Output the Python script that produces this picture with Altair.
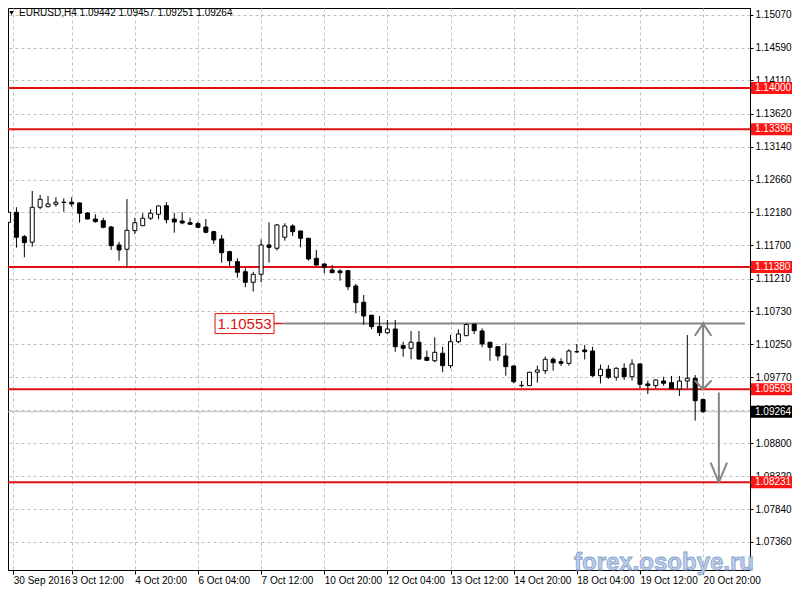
import json
import altair as alt
import pandas as pd

# ---------------- data ----------------
bars = list(range(89))  # H4 bar index (weekends skipped, MT4 style)

opens = [1.12035, 1.12182, 1.11825, 1.11743, 1.12255, 1.12263, 1.12299, 1.12328, 1.12328, 1.12318,
         1.12171, 1.12083, 1.12059, 1.11966, 1.11703, 1.11640, 1.11912, 1.11985, 1.12094, 1.12152,
         1.12278, 1.12083, 1.12054, 1.12029, 1.12015, 1.11966, 1.11898, 1.11791, 1.11605, 1.11459,
         1.11312, 1.11157, 1.11274, 1.11703, 1.11655, 1.11816, 1.11981, 1.11908, 1.11801, 1.11508,
         1.11425, 1.11337, 1.11323, 1.11327, 1.11103, 1.10865, 1.10675, 1.10511, 1.10420, 1.10474,
         1.10230, 1.10192, 1.10280, 1.10060, 1.10010, 1.10119, 1.09937, 1.10288, 1.10376, 1.10545,
         1.10445, 1.10280, 1.10215, 1.10079, 1.09933, 1.09645, 1.09645, 1.09841, 1.09864, 1.10031,
         1.09996, 1.09972, 1.10142, 1.10167, 1.10152, 1.09791, 1.09885, 1.09768, 1.09899, 1.09776,
         1.09962, 1.09670, 1.09645, 1.09713, 1.09689, 1.09596, 1.09713, 1.09753, 1.09442]
highs = [1.12200, 1.12255, 1.11849, 1.12493, 1.12435, 1.12420, 1.12401, 1.12386, 1.12401, 1.12328,
         1.12182, 1.12152, 1.12102, 1.11981, 1.11751, 1.12376, 1.12102, 1.12167, 1.12225, 1.12278,
         1.12328, 1.12167, 1.12182, 1.12102, 1.12044, 1.12083, 1.11912, 1.11849, 1.11620, 1.11508,
         1.11362, 1.11312, 1.11786, 1.12035, 1.12010, 1.12021, 1.12006, 1.11912, 1.11806, 1.11630,
         1.11430, 1.11410, 1.11348, 1.11337, 1.11133, 1.10972, 1.10680, 1.10664, 1.10606, 1.10606,
         1.10288, 1.10445, 1.10445, 1.10157, 1.10353, 1.10215, 1.10386, 1.10470, 1.10553, 1.10550,
         1.10484, 1.10285, 1.10220, 1.10265, 1.09938, 1.09713, 1.09845, 1.09938, 1.10069, 1.10060,
         1.10045, 1.10177, 1.10255, 1.10240, 1.10215, 1.09955, 1.09947, 1.09914, 1.09972, 1.10031,
         1.09972, 1.09718, 1.09738, 1.09776, 1.09787, 1.09787, 1.10386, 1.09801, 1.09457]
lows = [1.12025, 1.11664, 1.11523, 1.11678, 1.12225, 1.12255, 1.12263, 1.12190, 1.12263, 1.12029,
        1.12079, 1.12029, 1.11947, 1.11630, 1.11473, 1.11380, 1.11864, 1.11981, 1.12069, 1.12079,
        1.12021, 1.11883, 1.12006, 1.11996, 1.11947, 1.11874, 1.11718, 1.11444, 1.11396, 1.11225,
        1.11084, 1.11020, 1.11157, 1.11444, 1.11620, 1.11766, 1.11835, 1.11669, 1.11473, 1.11396,
        1.11289, 1.11289, 1.11181, 1.11045, 1.10704, 1.10533, 1.10470, 1.10372, 1.10401, 1.10142,
        1.10069, 1.10031, 1.10021, 1.10010, 1.09987, 1.09841, 1.09899, 1.10265, 1.10370, 1.10401,
        1.10206, 1.10010, 1.10010, 1.09791, 1.09680, 1.09621, 1.09640, 1.09689, 1.09816, 1.09864,
        1.09933, 1.09937, 1.10127, 1.10028, 1.09772, 1.09677, 1.09743, 1.09718, 1.09728, 1.09718,
        1.09607, 1.09523, 1.09607, 1.09645, 1.09596, 1.09494, 1.09607, 1.09133, 1.09251]
closes = [1.12182, 1.11816, 1.11737, 1.12255, 1.12372, 1.12303, 1.12328, 1.12326, 1.12303, 1.12167,
          1.12083, 1.12044, 1.11962, 1.11693, 1.11630, 1.11918, 1.12029, 1.12094, 1.12167, 1.12274,
          1.12073, 1.12040, 1.12025, 1.12006, 1.11962, 1.11889, 1.11776, 1.11590, 1.11473, 1.11304,
          1.11157, 1.11274, 1.11703, 1.11669, 1.11996, 1.11981, 1.11898, 1.11801, 1.11498, 1.11410,
          1.11377, 1.11298, 1.11298, 1.11093, 1.10859, 1.10664, 1.10508, 1.10420, 1.10474, 1.10215,
          1.10192, 1.10280, 1.10035, 1.10015, 1.10133, 1.09937, 1.10288, 1.10401, 1.10540, 1.10449,
          1.10255, 1.10206, 1.10079, 1.09923, 1.09703, 1.09650, 1.09841, 1.09874, 1.10031, 1.09981,
          1.09972, 1.10152, 1.10140, 1.10142, 1.09791, 1.09885, 1.09768, 1.09899, 1.09776, 1.09962,
          1.09665, 1.09645, 1.09728, 1.09680, 1.09600, 1.09713, 1.09753, 1.09425, 1.09264]

x_tick_bars = [0.6, 8, 16, 24, 32, 40, 48, 56, 64, 72, 80, 88]
x_tick_labels = ["30 Sep 2016", "3 Oct 12:00", "4 Oct 20:00", "6 Oct 04:00", "7 Oct 12:00",
                 "10 Oct 20:00", "12 Oct 04:00", "13 Oct 12:00", "14 Oct 20:00",
                 "18 Oct 04:00", "19 Oct 12:00", "20 Oct 20:00"]
y_ticks = [1.15070, 1.14590, 1.14110, 1.13620, 1.13140, 1.12660, 1.12180, 1.11700, 1.11210,
           1.10730, 1.10250, 1.09770, 1.09290, 1.08800, 1.08320, 1.07840, 1.07360, 1.06870]

level_prices = [1.14000, 1.13396, 1.11380, 1.09593, 1.08231]
bid_price = [1.09264]
target_price = [1.10553]
target_label_bar = [29.9]
target_line_start = [34.7]
target_line_end = [93.3]

arrow_x1 = [88, 87, 89, 87, 89, 90, 89, 91]
arrow_y1 = [1.10553, 1.10383, 1.10383, 1.09713, 1.09713, 1.09534, 1.08509, 1.08509]
arrow_x2 = [88, 88, 88, 88, 88, 90, 90, 90]
arrow_y2 = [1.09593, 1.10553, 1.10553, 1.09593, 1.09593, 1.08231, 1.08231, 1.08231]

title_text = ["EURUSD,H4  1.09442 1.09457 1.09251 1.09264"]
watermark_text = ["forex.osobye.ru"]

# ---------------- chart ----------------
FONT = "Liberation Sans, Arial, sans-serif"
W, H = 742, 562
XS = alt.Scale(domain=[0.5625, 93.3125], nice=False, zero=False)
YS = alt.Scale(domain=[1.06948, 1.15170], nice=False, zero=False)

label_expr = json.dumps(x_tick_labels) + "[round(datum.value/8)]"
XAXIS = alt.Axis(values=x_tick_bars, labelExpr=label_expr, title=None, orient="bottom",
                 grid=True, gridColor="#c0c0c0", gridDash=[3, 3], gridWidth=1,
                 domainColor="black", tickColor="black", tickSize=4, labelAlign="left",
                 labelBaseline="top", labelPadding=1, labelFont=FONT, labelFontSize=10,
                 labelColor="black", labelOverlap=False, labelFlush=False, labelBound=False)
YAXIS = alt.Axis(values=y_ticks, format=".5f", title=None, orient="right",
                 grid=True, gridColor="#c0c0c0", gridDash=[3, 3], gridWidth=1,
                 domainColor="black", tickColor="black", tickSize=3, labelAlign="left",
                 labelBaseline="middle", labelPadding=2, labelFont=FONT, labelFontSize=10,
                 labelColor="black", labelOverlap=False, labelFlush=False, labelBound=False)


def X(f):
    return alt.X(f, type="quantitative", scale=XS, axis=XAXIS)


def Y(f):
    return alt.Y(f, type="quantitative", scale=YS, axis=YAXIS)


cand = pd.DataFrame({"bar": bars, "open": opens, "high": highs, "low": lows, "close": closes})
cand["dir"] = ["up" if c >= o else "down" for o, c in zip(opens, closes)]

levels = pd.DataFrame({"price": level_prices, "label": [f"{p:.5f}" for p in level_prices]})
bid = pd.DataFrame({"price": bid_price, "label": [f"{p:.5f}" for p in bid_price]})
target = pd.DataFrame({"price": target_price, "bar": target_label_bar,
                       "x1": target_line_start, "x2": target_line_end,
                       "label": [f"{p:.5f}" for p in target_price]})
arrows = pd.DataFrame({"x1": arrow_x1, "y1": arrow_y1, "x2": arrow_x2, "y2": arrow_y2})

RED_LINE = "#e01010"
RED_BOX = "#ff1414"
GRAY = "#858585"

bid_line = alt.Chart(bid).mark_rule(color="#c0c0c0", strokeWidth=1).encode(y=Y("price"))
red_lines = alt.Chart(levels).mark_rule(color=RED_LINE, strokeWidth=2).encode(y=Y("price"))

target_line = alt.Chart(target).mark_rule(color=GRAY, strokeWidth=2).encode(
    x=X("x1"), x2="x2", y=Y("price"))
target_link = alt.Chart(target).mark_rule(color=RED_LINE, strokeWidth=1.5).encode(
    x=X("bar"), x2="x1", y=Y("price"))

wicks = alt.Chart(cand).mark_rule(color="black", strokeWidth=1, clip=True).encode(
    x=X("bar"), y=Y("low"), y2="high")
bodies = alt.Chart(cand).mark_bar(size=4, stroke="black", strokeWidth=1, clip=True).encode(
    x=X("bar"), y=Y("open"), y2="close",
    fill=alt.Fill("dir:N", scale=alt.Scale(domain=["up", "down"], range=["white", "black"]),
                  legend=None))

arrow_marks = alt.Chart(arrows).mark_rule(color=GRAY, strokeWidth=2, strokeCap="round").encode(
    x=X("x1"), y=Y("y1"), x2="x2", y2="y2")

BOX_SMALL = "M-1,-0.2927L1,-0.2927L1,0.2927L-1,0.2927Z"
BOX_TARGET = "M-1,-0.339L1,-0.339L1,0.339L-1,0.339Z"
BOX_X = 763.5
TEXT_X = 747

level_boxes = alt.Chart(levels).mark_point(shape=BOX_SMALL, size=1681, filled=True,
                                            color=RED_BOX, opacity=1).encode(
    x=alt.value(BOX_X), y=Y("price"))
level_text = alt.Chart(levels).mark_text(align="left", baseline="middle", font=FONT,
                                          fontSize=10, color="white").encode(
    x=alt.value(TEXT_X), y=Y("price"), text="label:N")
bid_box = alt.Chart(bid).mark_point(shape=BOX_SMALL, size=1681, filled=True,
                                     color="black", opacity=1).encode(
    x=alt.value(BOX_X), y=Y("price"))
bid_text = alt.Chart(bid).mark_text(align="left", baseline="middle", font=FONT,
                                     fontSize=10, color="white").encode(
    x=alt.value(TEXT_X), y=Y("price"), text="label:N")

target_box = alt.Chart(target).mark_point(shape=BOX_TARGET, size=3481, filled=True,
                                           fill="white", stroke=RED_LINE, strokeWidth=1,
                                           opacity=1).encode(x=X("bar"), y=Y("price"))
target_text = alt.Chart(target).mark_text(align="center", baseline="middle", font=FONT,
                                           fontSize=15, color=RED_LINE).encode(
    x=X("bar"), y=Y("price"), text="label:N")

title_df = pd.DataFrame({"t": title_text})
title_tri = alt.Chart(title_df).mark_point(shape="triangle-down", size=22, filled=True,
                                            color="black", opacity=1).encode(
    x=alt.value(3.5), y=alt.value(5))
title_mark = alt.Chart(title_df).mark_text(align="left", baseline="middle", font=FONT,
                                            fontSize=10, color="black").encode(
    x=alt.value(11), y=alt.value(5), text="t:N")

wm_df = pd.DataFrame({"t": watermark_text})
watermark = alt.Chart(wm_df).mark_text(align="center", baseline="middle",
                                        font="Liberation Sans, Arial, sans-serif",
                                        fontSize=24, fontWeight="bold", fill="#b9cce8",
                                        stroke="#7f9ccb", strokeWidth=0.8, opacity=0.95).encode(
    x=alt.value(656), y=alt.value(555), text="t:N")

chart = alt.layer(
    bid_line, red_lines, target_line, target_link, wicks, bodies, arrow_marks,
    target_box, target_text, watermark, bid_box, bid_text, level_boxes, level_text,
    title_tri, title_mark,
).properties(
    width=W, height=H,
    padding={"left": 0, "top": 0, "right": 42, "bottom": 16},
    autosize=alt.AutoSizeParams(type="none"),
    background="white",
).configure_view(stroke="black", strokeWidth=1)

chart.save("out.html", embed_options={"renderer": "svg", "actions": False})
